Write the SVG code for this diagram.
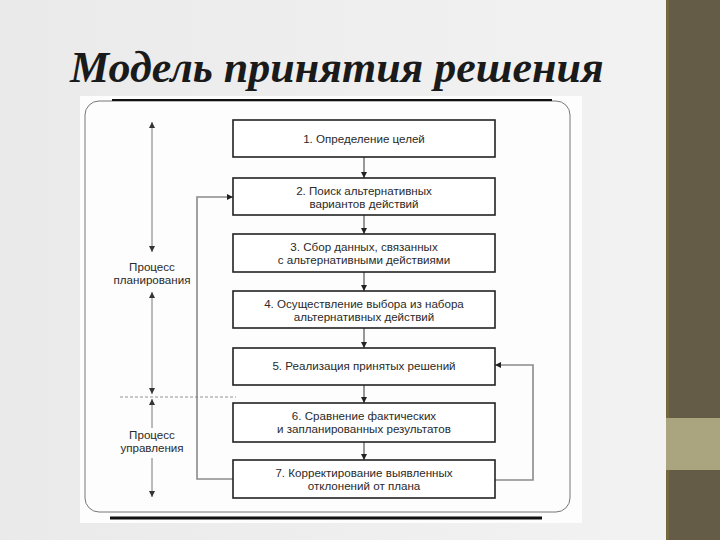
<svg xmlns="http://www.w3.org/2000/svg" width="720" height="540" viewBox="0 0 720 540">
<defs>
<linearGradient id="bg" x1="0" y1="0" x2="1" y2="0">
<stop offset="0" stop-color="#eaeaea"/>
<stop offset="1" stop-color="#f3f3f3"/>
</linearGradient>
<marker id="ah" viewBox="0 0 10 10" refX="10" refY="5" markerWidth="6" markerHeight="6" orient="auto-start-reverse" markerUnits="userSpaceOnUse">
<path d="M0,0 L10,5 L0,10 z" fill="#222"/>
</marker>
<marker id="ahs" viewBox="0 0 10 10" refX="10" refY="5" markerWidth="6" markerHeight="6" orient="auto-start-reverse" markerUnits="userSpaceOnUse">
<path d="M0,0 L10,5 L0,10 z" fill="#333"/>
</marker>
</defs>
<style>
.box{fill:#fff;stroke:#222;stroke-width:1.6}
.lbl{font-family:"Liberation Sans",Arial,sans-serif;font-size:11.6px;fill:#2a2a2a;text-anchor:middle}
.side{font-family:"Liberation Sans",Arial,sans-serif;font-size:11.6px;fill:#2a2a2a;text-anchor:middle}
.flow{stroke:#333;stroke-width:1;fill:none;marker-end:url(#ah)}
.fb{stroke:#8a8a8a;stroke-width:1.6;fill:none;marker-end:url(#ah)}
.dim{stroke:#555;stroke-width:0.8;fill:none}
</style>
<rect x="0" y="0" width="720" height="540" fill="url(#bg)"/>
<rect x="666" y="0" width="54" height="540" fill="#645c47"/>
<rect x="666" y="0" width="3" height="540" fill="#75683f"/>
<rect x="666" y="418" width="54" height="52" fill="#aaa57f"/>
<text x="70" y="82" font-family="'Liberation Serif','Times New Roman',serif" font-size="44" font-weight="bold" font-style="italic" fill="#1a1a1a">Модель принятия решения</text>
<g id="frame">
<rect x="80" y="96" width="502" height="427" fill="#fdfdfd"/>
<rect x="85" y="101" width="485" height="411" rx="14" fill="none" stroke="#777" stroke-width="1"/>
<line x1="112" y1="100" x2="552" y2="100" stroke="#111" stroke-width="2"/>
<line x1="110" y1="518" x2="542" y2="518" stroke="#111" stroke-width="3"/>
</g>
<g id="connectors">
<line class="flow" x1="364" y1="157" x2="364" y2="178"/>
<line class="flow" x1="364" y1="215" x2="364" y2="234"/>
<line class="flow" x1="364" y1="272" x2="364" y2="291"/>
<line class="flow" x1="364" y1="328" x2="364" y2="348"/>
<line class="flow" x1="364" y1="385" x2="364" y2="403"/>
<line class="flow" x1="364" y1="442" x2="364" y2="460"/>
<polyline class="fb" points="233,479 197,479 197,197 233,197"/>
<polyline class="fb" points="495,480 533,480 533,365 495,365"/>
<line class="dim" x1="152" y1="252" x2="152" y2="122" marker-end="url(#ahs)" marker-start="url(#ahs)"/>
<line class="dim" x1="152" y1="292" x2="152" y2="394" marker-end="url(#ahs)" marker-start="url(#ahs)"/>
<line class="dim" x1="152" y1="428" x2="152" y2="399" marker-end="url(#ahs)"/>
<line class="dim" x1="152" y1="458" x2="152" y2="497" marker-end="url(#ahs)"/>
<line x1="120" y1="397" x2="236" y2="397" stroke="#777" stroke-width="0.8" stroke-dasharray="3,2"/>
</g>
<g id="planning">
<text class="side" x="152" y="271">Процесс</text>
<text class="side" x="152" y="284">планирования</text>
</g>
<g id="control">
<text class="side" x="152" y="439">Процесс</text>
<text class="side" x="152" y="452">управления</text>
</g>
<g id="n1">
<rect class="box" x="233" y="120" width="262" height="37"/>
<text class="lbl" x="364" y="143">1. Определение целей</text>
</g>
<g id="n2">
<rect class="box" x="233" y="178" width="262" height="37"/>
<text class="lbl" x="364" y="195">2. Поиск альтернативных</text>
<text class="lbl" x="364" y="208">вариантов действий</text>
</g>
<g id="n3">
<rect class="box" x="233" y="234" width="262" height="38"/>
<text class="lbl" x="364" y="251">3. Сбор данных, связанных</text>
<text class="lbl" x="364" y="264">с альтернативными действиями</text>
</g>
<g id="n4">
<rect class="box" x="233" y="291" width="262" height="37"/>
<text class="lbl" x="364" y="308">4. Осуществление выбора из набора</text>
<text class="lbl" x="364" y="321">альтернативных действий</text>
</g>
<g id="n5">
<rect class="box" x="233" y="348" width="262" height="37"/>
<text class="lbl" x="364" y="370">5. Реализация принятых решений</text>
</g>
<g id="n6">
<rect class="box" x="233" y="403" width="262" height="39"/>
<text class="lbl" x="364" y="420">6. Сравнение фактических</text>
<text class="lbl" x="364" y="433">и запланированных результатов</text>
</g>
<g id="n7">
<rect class="box" x="233" y="460" width="262" height="38"/>
<text class="lbl" x="364" y="477">7. Корректирование выявленных</text>
<text class="lbl" x="364" y="490">отклонений от плана</text>
</g>
</svg>
